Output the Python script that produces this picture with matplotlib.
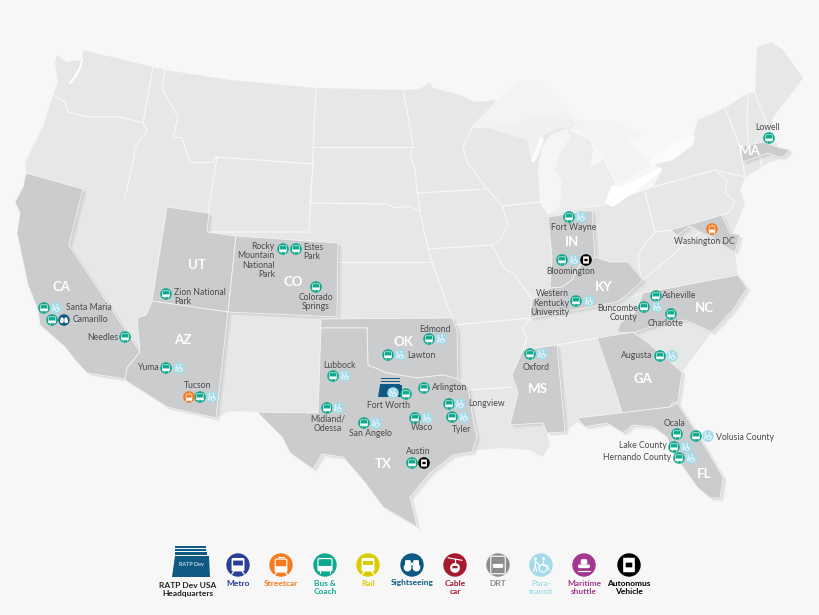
import matplotlib
matplotlib.use('Agg')
import matplotlib.pyplot as plt
from matplotlib.patches import Polygon, FancyBboxPatch, Rectangle

plt.rcParams['font.family'] = ['Lato', 'DejaVu Sans']

BG = '#f7f7f7'
LAND = '#e6e7e7'
ACTIVE = '#cbcccd'
TEXT = '#4b4b4d'

# Colours per service
METRO = '#2b3f97'
STREETCAR = '#f47b20'
BUS = '#12a88f'
RAIL = '#d9cd00'
SIGHT = '#0f5a85'
CABLE = '#a6192e'
DRT = '#8c8c8c'
PARA = '#a5dbe9'
MARITIME = '#a2388f'
AUTO = '#000000'

# Map shapes, in picture coordinates
LAND_OUTLINE = [(57, 55), (67, 62), (82, 60), (83, 50), (153, 67), (165, 70), (230, 80), (316, 88), (403, 90),
                (420, 89), (430, 82), (433, 88), (460, 95), (475, 102), (497, 100), (472, 128), (487, 128), (510, 125),
                (535, 118), (572, 120), (577, 125), (567, 130), (590, 140), (593, 150), (590, 167), (603, 160),
                (615, 183), (605, 205), (653, 187), (662, 170), (650, 160), (693, 137), (698, 120), (725, 108),
                (748, 93), (755, 93), (757, 47), (772, 42), (783, 50), (803, 78), (793, 92), (773, 117), (772, 133),
                (778, 147), (790, 150), (782, 158), (768, 163), (745, 178), (740, 190), (745, 203), (740, 217),
                (733, 233), (740, 235), (735, 252), (738, 275), (747, 288), (733, 310), (712, 332), (682, 372),
                (678, 402), (697, 433), (723, 477), (720, 498), (710, 498), (697, 487), (685, 470), (673, 453),
                (667, 437), (653, 427), (633, 425), (623, 433), (607, 423), (585, 427), (577, 422), (565, 432),
                (547, 433), (550, 445), (543, 457), (530, 450), (503, 448), (477, 450), (472, 452), (453, 455),
                (430, 473), (410, 497), (417, 527), (393, 513), (383, 507), (363, 480), (343, 457), (322, 454),
                (313, 469), (290, 453), (282, 437), (257, 412), (230, 411), (216, 418), (167, 407), (125, 380),
                (87, 373), (75, 360), (65, 347), (40, 325), (38, 310), (28, 285), (17, 233), (20, 213), (15, 202),
                (23, 187), (26, 173), (25, 163), (33, 147), (43, 127), (53, 95), (58, 83), (55, 63)]

LAKE_SUPERIOR = [(470, 128), (497, 100), (518, 80), (540, 80), (570, 110), (577, 120), (535, 118), (510, 125),
                 (487, 128)]
HURON_SIDE = [(577, 120), (612, 120), (642, 135), (627, 140), (650, 163), (647, 167), (620, 183), (614, 177),
              (593, 140), (572, 128)]
UPPER_MICHIGAN = [(487, 128), (510, 125), (535, 118), (572, 120), (577, 125), (570, 128), (560, 128), (543, 135),
                  (535, 150), (532, 162), (527, 140)]
LOWER_MICHIGAN = [(570, 130), (590, 140), (593, 150), (590, 167), (603, 160), (615, 183), (607, 197), (605, 205),
                  (548, 215), (555, 170), (560, 150)]
LAKE_MICHIGAN = [(567, 128), (550, 135), (542, 147), (538, 170), (540, 203), (548, 215), (560, 207), (562, 183),
                 (555, 170), (560, 153), (570, 137)]
GREEN_BAY = [(541, 136), (544, 140), (537, 158), (533, 163), (531, 160)]
LAKE_ERIE = [(605, 203), (613, 207), (633, 193), (662, 170), (660, 167), (642, 177), (620, 187), (612, 185), (607, 197)]
LAKE_ONTARIO = [(648, 163), (657, 153), (677, 140), (695, 135), (693, 145), (673, 160), (653, 165)]
PUGET_SOUND = [(82, 60), (80, 68), (75, 77), (70, 83)]

BORDERS = [
    [(53, 95), (65, 102), (68, 112), (88, 117), (120, 117), (143, 123), (153, 67)],
    [(143, 123), (147, 131), (135, 147), (134, 157), (125, 198)],
    [(165, 70), (162, 88), (178, 117), (173, 138), (182, 137), (190, 163), (213, 162), (217, 157), (208, 213)],
    [(217, 157), (313, 164), (309, 232), (207, 232)],
    [(316, 88), (313, 147), (313, 164), (310, 203)],
    [(313, 147), (413, 147)],
    [(310, 203), (388, 204), (395, 208), (410, 206), (420, 212), (425, 235), (432, 262), (452, 318)],
    [(403, 90), (407, 110), (413, 147), (410, 155), (415, 170), (417, 190), (420, 212)],
    [(338, 262), (432, 262)],
    [(417, 193), (488, 189)],
    [(428, 249), (492, 245)],
    [(472, 128), (463, 147), (467, 162), (488, 190), (502, 205), (508, 225), (500, 240), (492, 245), (503, 267),
     (515, 275), (532, 300), (530, 318)],
    [(502, 206), (540, 202)],
    [(453, 325), (520, 319), (530, 318)],
    [(470, 390), (512, 387)],
    [(530, 318), (522, 330), (527, 337), (523, 350)],
    [(458, 379), (467, 390), (477, 437)],
    [(530, 318), (617, 302), (643, 293)],
    [(523, 350), (557, 345), (597, 338)],
    [(588, 207), (605, 205)],
    [(645, 192), (655, 232), (638, 253), (640, 272), (643, 280)],
    [(653, 187), (715, 170), (727, 180), (725, 193), (735, 202), (728, 213), (722, 215)],
    [(655, 232), (672, 230)],
    [(715, 170), (745, 177), (740, 147), (725, 108)],
    [(748, 93), (747, 117), (748, 143)],
    [(755, 93), (768, 127), (768, 138)],
    [(760, 157), (762, 170)],
    [(643, 280), (667, 260), (685, 243), (700, 232)],
]

CA_SHAPE = [(26, 173), (83, 189), (69, 245), (140, 352), (127, 368), (126, 379), (87, 373), (75, 360), (65, 347),
            (40, 325), (38, 310), (28, 285), (17, 233), (20, 213), (15, 202), (23, 187)]
UT_SHAPE = [(167, 207), (209, 213), (207, 232), (236, 236), (228, 312), (152, 301)]
AZ_SHAPE = [(152, 301), (228, 312), (216, 418), (167, 407), (125, 380), (127, 368), (140, 352), (137, 318), (146, 315)]
CO_SHAPE = [(236, 236), (338, 243), (337, 317), (228, 312)]
OK_SHAPE = [(321, 319), (452, 318), (457, 330), (458, 379), (443, 375), (417, 378), (387, 373), (368, 365), (367, 328),
            (321, 328)]
TX_SHAPE = [(321, 328), (367, 328), (368, 365), (387, 373), (417, 378), (443, 375), (458, 379), (468, 388), (474, 425),
            (477, 437), (472, 452), (453, 455), (430, 473), (410, 497), (417, 527), (393, 513), (383, 507), (363, 480),
            (343, 457), (322, 454), (313, 469), (290, 453), (282, 437), (257, 412), (318, 413)]
MS_SHAPE = [(523, 350), (557, 345), (565, 432), (547, 433), (543, 423), (510, 425), (518, 393), (512, 375)]
IN_SHAPE = [(548, 217), (592, 210), (595, 257), (580, 265), (572, 280), (562, 287), (550, 288), (552, 257)]
KY_SHAPE = [(530, 318), (532, 300), (550, 288), (562, 287), (572, 280), (580, 265), (595, 257), (610, 262), (628, 262),
            (643, 280), (627, 295), (617, 302)]
NC_SHAPE = [(643, 293), (738, 275), (747, 288), (733, 310), (712, 332), (685, 320), (667, 322), (650, 327), (633, 333),
            (617, 332), (620, 323), (635, 312)]
GA_SHAPE = [(597, 338), (633, 332), (647, 342), (682, 372), (678, 402), (672, 403), (670, 407), (622, 413), (615, 390)]
FL_SHAPE = [(577, 418), (620, 413), (670, 407), (677, 403), (697, 433), (723, 477), (720, 498), (710, 498), (697, 487),
            (685, 470), (673, 453), (667, 437), (653, 427), (633, 425), (623, 433), (607, 423), (585, 427)]
MD_SHAPE = [(671, 230), (722, 215), (730, 233), (740, 235), (735, 252), (722, 245), (712, 237), (700, 232), (690, 226),
            (677, 236)]
MA_SHAPE = [(740, 147), (763, 142), (778, 147), (790, 150), (782, 158), (773, 155), (768, 153), (743, 162)]
ACTIVE_STATES = [CA_SHAPE, UT_SHAPE, AZ_SHAPE, CO_SHAPE, OK_SHAPE, TX_SHAPE, MS_SHAPE, IN_SHAPE, KY_SHAPE, NC_SHAPE,
                 GA_SHAPE, FL_SHAPE, MD_SHAPE, MA_SHAPE]

STATE_NAMES = ['CA', 'UT', 'AZ', 'CO', 'OK', 'TX', 'MS', 'IN', 'KY', 'NC', 'GA', 'FL', 'MA']
STATE_X = [62, 197, 183, 293, 403, 383, 538, 572, 604, 704, 643, 704, 750]
STATE_Y = [287, 265, 340, 282, 342, 464, 389, 242, 287, 308, 379, 474, 151]

# Sites per service
BUS_SITES = [(44, 308), (52, 320), (125, 337), (166, 368), (200, 397), (166, 294), (283, 249), (296, 249), (316, 287),
             (333, 376), (327, 408), (364, 423), (406, 394), (424, 388), (449, 404), (452, 417), (415, 418), (412, 463),
             (429, 339), (388, 355), (530, 354), (569, 217), (562, 260), (576, 301), (656, 296), (644, 307), (671, 314),
             (660, 356), (677, 434), (696, 436), (674, 447), (679, 458), (769, 138)]
PARA_SITES = [(56, 308), (179, 368), (212, 397), (345, 376), (338, 408), (376, 423), (393, 393), (460, 404), (464, 417),
              (427, 418), (441, 339), (400, 355), (542, 354), (581, 217), (574, 260), (589, 301), (657, 307), (672, 356),
              (708, 436), (686, 447), (691, 458)]
STREETCAR_SITES = [(189, 397), (712, 229)]
SIGHT_SITES = [(64, 320)]
AUTO_SITES = [(424, 463), (586, 260)]

# text, x, y, alignment
SITE_LABELS = [
    ('Santa Maria', 66, 308, 'left'), ('Camarillo', 72.5, 320, 'left'), ('Needles', 118, 337, 'right'),
    ('Yuma', 159, 368, 'right'), ('Tucson', 198, 385, 'center'), ('Zion National\nPark', 174, 297, 'left'),
    ('Rocky\nMountain\nNational\nPark', 275, 260.5, 'right'), ('Estes\nPark', 303, 252, 'left'),
    ('Colorado\nSprings', 316, 302, 'center'), ('Lubbock', 339, 366, 'center'),
    ('Midland/\nOdessa', 328, 424, 'center'), ('San Angelo', 370, 433, 'center'), ('Fort Worth', 389, 406, 'center'),
    ('Arlington', 432, 388, 'left'), ('Longview', 468, 404, 'left'), ('Tyler', 462, 430, 'center'),
    ('Waco', 422, 428, 'center'), ('Austin', 418, 452, 'center'), ('Edmond', 435, 329, 'center'),
    ('Lawton', 407, 355, 'left'), ('Oxford', 536, 367, 'center'), ('Fort Wayne', 574, 227, 'center'),
    ('Bloomington', 571, 271, 'center'), ('Western\nKentucky\nUniversity', 569, 303, 'right'),
    ('Asheville', 662, 296, 'left'), ('Buncombe\nCounty', 638, 313, 'right'), ('Charlotte', 666, 324, 'center'),
    ('Washington DC', 704, 241, 'center'), ('Augusta', 652, 356, 'right'), ('Ocala', 675, 424, 'center'),
    ('Volusia County', 716, 437, 'left'), ('Lake County', 667, 446, 'right'), ('Hernando County', 671, 457, 'right'),
    ('Lowell', 768, 128, 'center'),
]

# Legend
LEGEND_NAMES = ['Metro', 'Streetcar', 'Bus &\nCoach', 'Rail', 'Sightseeing', 'Cable\ncar', 'DRT', 'Para-\ntransit',
                'Maritime\nshuttle', 'Autonomus\nVehicle']
LEGEND_COLORS = [METRO, STREETCAR, BUS, RAIL, SIGHT, CABLE, DRT, PARA, MARITIME, AUTO]
LEGEND_KINDS = ['metro', 'tram', 'bus', 'rail', 'sight', 'cable', 'drt', 'para', 'ship', 'auto']
LEGEND_X = [238, 281, 325, 368, 412, 455, 498, 541, 584, 629]
LEGEND_Y = 565


def draw_icon(ax, x, y, color, kind, r=5.8):
    """Round service badge with a small white glyph inside (y grows downwards)."""
    ax.add_patch(plt.Circle((x, y), r, fc=color, ec='none', zorder=6))
    z = 6.2
    lw = r * 0.07

    def box(x0, y0, w, h, fc='white', ec='none', rounded=0.12, zo=z):
        ax.add_patch(FancyBboxPatch((x + x0 * r, y + y0 * r), w * r, h * r,
                                    boxstyle=f'round,pad=0,rounding_size={rounded * r}',
                                    fc=fc, ec=ec, lw=lw, zorder=zo))

    def stroke(xs, ys):
        ax.plot([x + v * r for v in xs], [y + v * r for v in ys], color='white', lw=lw, zorder=z,
                solid_capstyle='round')

    def dot(dx, dy, rad, fc='white', ec='none', zo=z):
        ax.add_patch(plt.Circle((x + dx * r, y + dy * r), rad * r, fc=fc, ec=ec, lw=lw, zorder=zo))

    if kind == 'bus':
        box(-0.6, -0.55, 1.2, 1.05, fc=color, ec='white')
        box(-0.6, 0.08, 1.2, 0.42, rounded=0.05)
        stroke([-0.4, -0.4], [0.5, 0.68])
        stroke([0.4, 0.4], [0.5, 0.68])
    elif kind == 'metro':
        box(-0.55, -0.6, 1.1, 1.15)
        box(-0.42, -0.38, 0.84, 0.42, fc=color, zo=z + 0.1, rounded=0.03)
        stroke([-0.35, -0.55], [0.55, 0.8])
        stroke([0.35, 0.55], [0.55, 0.8])
    elif kind == 'tram':
        box(-0.5, -0.5, 1.0, 1.1, fc=color, ec='white')
        box(-0.5, 0.1, 1.0, 0.5, rounded=0.05)
        stroke([-0.25, 0.25], [-0.72, -0.72])
        stroke([-0.35, -0.55], [0.6, 0.82])
        stroke([0.35, 0.55], [0.6, 0.82])
    elif kind == 'rail':
        box(-0.55, -0.6, 1.1, 1.15)
        box(-0.42, -0.35, 0.84, 0.35, fc=color, zo=z + 0.1, rounded=0.03)
        stroke([-0.3, -0.5], [0.55, 0.8])
        stroke([0.3, 0.5], [0.55, 0.8])
    elif kind == 'sight':
        dot(-0.38, 0.22, 0.33)
        dot(0.38, 0.22, 0.33)
        box(-0.6, -0.42, 0.5, 0.6)
        box(0.1, -0.42, 0.5, 0.6)
        box(-0.1, -0.2, 0.2, 0.25, rounded=0.02)
    elif kind == 'cable':
        stroke([-0.6, 0.6], [-0.62, -0.4])
        stroke([0, 0], [-0.5, -0.15])
        dot(0, 0.25, 0.42)
        box(-0.22, 0.08, 0.44, 0.2, fc=color, zo=z + 0.1, rounded=0.02)
    elif kind == 'drt':
        box(-0.62, -0.75, 1.24, 1.5, fc=color, ec='white')
        box(-0.45, -0.1, 0.9, 0.35)
    elif kind == 'para':
        # walker with a cane and a wheelchair user
        dot(-0.48, -0.52, 0.12)
        stroke([-0.48, -0.5, -0.62], [-0.35, 0.05, 0.55])
        stroke([-0.5, -0.35], [0.05, 0.55])
        stroke([-0.45, -0.15, -0.15], [-0.3, 0.0, 0.4])
        dot(0.22, -0.55, 0.12)
        stroke([0.2, 0.2, 0.5, 0.68], [-0.38, 0.05, 0.05, 0.42])
        dot(0.18, 0.28, 0.33, fc='none', ec='white')
    elif kind == 'ship':
        box(-0.28, -0.5, 0.56, 0.45)
        box(-0.5, -0.05, 1.0, 0.32)
        stroke([-0.55, 0.55], [0.5, 0.5])
    elif kind == 'auto':
        box(-0.5, -0.62, 1.0, 1.24, rounded=0.06)
        box(-0.28, -0.2, 0.56, 0.4, fc=color, zo=z + 0.1, rounded=0.02)


fig = plt.figure(figsize=(8.2, 6.15), dpi=100, facecolor=BG)
ax = fig.add_axes([0, 0, 1, 1])
ax.set_xlim(0, 820)
ax.set_ylim(615, 0)
ax.axis('off')

ax.add_patch(Polygon(LAND_OUTLINE, closed=True, fc=LAND, ec='none', zorder=1))
ax.add_patch(Polygon(LAKE_SUPERIOR, closed=True, fc='#f3f3f3', ec='none', zorder=1.1))
ax.add_patch(Polygon(HURON_SIDE, closed=True, fc='#f3f3f3', ec='none', zorder=1.1))
ax.add_patch(Polygon(UPPER_MICHIGAN, closed=True, fc='#f0f0f0', ec='none', zorder=1.2))
ax.add_patch(Polygon(LOWER_MICHIGAN, closed=True, fc='#ededed', ec='none', zorder=1.2))
ax.add_patch(Polygon(LAKE_MICHIGAN, closed=True, fc='#f5f5f5', ec='none', zorder=1.3))
ax.add_patch(Polygon(GREEN_BAY, closed=True, fc='#fbfbfb', ec='none', zorder=1.3))
ax.add_patch(Polygon(LAKE_ERIE, closed=True, fc='white', ec='none', zorder=1.3))
ax.add_patch(Polygon(LAKE_ONTARIO, closed=True, fc='#fbfbfb', ec='none', zorder=1.3))
ax.plot([p[0] for p in PUGET_SOUND], [p[1] for p in PUGET_SOUND], color='white', lw=1.4, zorder=1.4)

for line in BORDERS:
    ax.plot([p[0] for p in line], [p[1] for p in line], color='#f8f8f8', lw=0.8, zorder=2, solid_joinstyle='round')

# soft drop shadow under the highlighted states
for shape in ACTIVE_STATES:
    for off in (1, 2, 3, 4):
        ax.add_patch(Polygon([(px + off, py + off * 0.8) for px, py in shape], closed=True,
                             fc='#8a8a8a', ec='none', alpha=0.07, zorder=2.5))
for shape in ACTIVE_STATES:
    ax.add_patch(Polygon(shape, closed=True, fc=ACTIVE, ec='#f4f4f4', lw=0.6, zorder=3))

for name, sx, sy in zip(STATE_NAMES, STATE_X, STATE_Y):
    ax.text(sx, sy, name, color='white', fontsize=9.5, fontweight='bold', ha='center', va='center', zorder=4)

# Fort Worth headquarters building
ax.add_patch(Polygon([(378, 397), (380, 385), (402, 385), (402, 397)], closed=True, fc=SIGHT, ec='none', zorder=5))
ax.add_patch(Rectangle((381, 378), 19, 1.4, fc=SIGHT, ec='none', zorder=5))
ax.add_patch(Rectangle((381, 381), 19, 1.4, fc=SIGHT, ec='none', zorder=5))
ax.add_patch(Rectangle((380.5, 383.5), 20, 1.5, fc=SIGHT, ec='none', zorder=5))

for pts, color, kind in [(BUS_SITES, BUS, 'bus'), (PARA_SITES, PARA, 'para'), (STREETCAR_SITES, STREETCAR, 'tram'),
                         (SIGHT_SITES, SIGHT, 'sight'), (AUTO_SITES, AUTO, 'auto')]:
    for sx, sy in pts:
        draw_icon(ax, sx, sy, color, kind)

for text, sx, sy, align in SITE_LABELS:
    ax.text(sx, sy, text, color=TEXT, fontsize=6.2, ha=align, va='center', linespacing=1.05, zorder=7)

# legend row
ax.add_patch(Polygon([(172, 577), (175, 556), (209, 556), (210, 577)], closed=True, fc=SIGHT, ec='none', zorder=5))
ax.add_patch(Rectangle((175.5, 546), 31, 1.6, fc=SIGHT, ec='none', zorder=5))
ax.add_patch(Rectangle((175.5, 549), 31, 1.6, fc=SIGHT, ec='none', zorder=5))
ax.add_patch(Rectangle((175, 552), 32, 3, fc=SIGHT, ec='none', zorder=5))
ax.text(191, 564.5, 'RATP Dev', color='white', fontsize=4, ha='center', va='center', zorder=6)
ax.text(188, 589.5, 'RATP Dev USA\nHeadquarters', color='#222222', fontsize=6, fontweight='bold', ha='center', va='center',
        linespacing=1.2, zorder=6)

for name, color, kind, lx in zip(LEGEND_NAMES, LEGEND_COLORS, LEGEND_KINDS, LEGEND_X):
    draw_icon(ax, lx, LEGEND_Y, color, kind, r=11.7)
    ax.text(lx, 579.5, name, color=color, fontsize=6, fontweight='bold', ha='center', va='top', linespacing=1.2, zorder=6)

fig.savefig('out.png', dpi=100, facecolor=BG)
